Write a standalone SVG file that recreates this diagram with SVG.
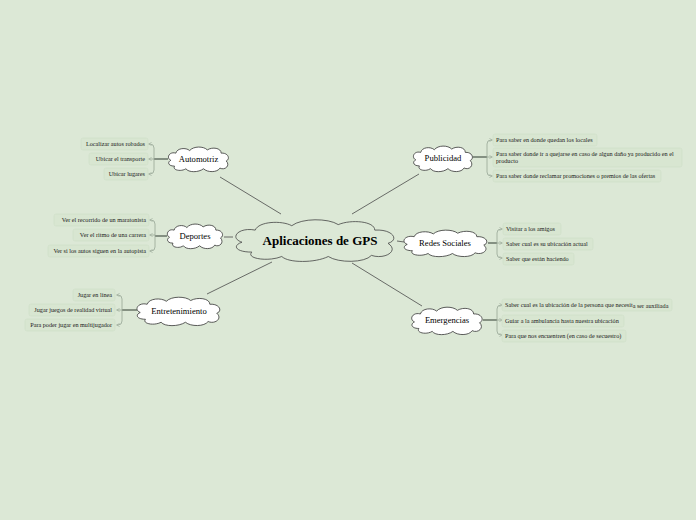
<svg xmlns="http://www.w3.org/2000/svg" xmlns:xlink="http://www.w3.org/1999/xlink" width="696" height="520" viewBox="0 0 696 520">
<style>
.bg{fill:#dce8d6}
.cloud{fill:#ffffff;stroke:#333;stroke-width:0.8}
.cloudc{fill:#dce8d6;stroke:#444;stroke-width:0.8}
.main{stroke:#4a4a4a;stroke-width:0.8;fill:none}
.stem{stroke:#6f7a6d;stroke-width:1.6;fill:none}
.br{stroke:#97a695;stroke-width:0.8;fill:none}
.leafbox{fill:#d8e6d1;stroke:#cfdec8;stroke-width:0.6}
.leaf{font-family:"Liberation Serif","DejaVu Serif",serif;font-size:6.2px;fill:#1a1a1a}
.sub{font-family:"Liberation Serif","DejaVu Serif",serif;font-size:8.6px;fill:#000;text-anchor:middle}
.ctr{font-family:"Liberation Serif","DejaVu Serif",serif;font-size:13px;font-weight:bold;fill:#000;text-anchor:middle}
.end{text-anchor:end}
</style>
<defs>
<path id="cl" vector-effect="non-scaling-stroke" d="M6,22 C-2,18 4,8 14,11 C16,3 30,2 36,7 C42,0 58,0 64,6 C72,1 86,3 86,11 C97,10 101,20 94,23 C101,30 92,38 84,34 C80,41 64,41 58,35 C50,41 34,41 30,35 C22,40 8,37 12,31 C2,31 0,25 6,22 Z"/>
<marker id="ah" viewBox="0 0 6 6" refX="5" refY="3" markerWidth="4" markerHeight="4" orient="auto"><path d="M0,0 L6,3 L0,6" fill="none" stroke="#97a695" stroke-width="1"/></marker>
</defs>
<rect class="bg" x="0" y="0" width="696" height="520"/>

<g id="connectors">
<line class="main" x1="220" y1="177" x2="281" y2="214"/>
<line class="main" x1="419" y1="174" x2="352" y2="214"/>
<line class="main" x1="207" y1="294" x2="272" y2="262"/>
<line class="main" x1="422" y1="306" x2="352" y2="263"/>
<line class="main" x1="224" y1="237" x2="233" y2="237"/>
<line class="main" x1="397" y1="241" x2="404" y2="242"/>
<line class="stem" x1="168" y1="159" x2="154" y2="159"/>
<path class="br" d="M154,148 Q154,144 150,144 L149,144" marker-end="url(#ah)"/>
<path class="br" d="M154,159 L149,159" marker-end="url(#ah)"/>
<path class="br" d="M154,148 L154,170 Q154,174 150,174 L149,174" marker-end="url(#ah)"/>
<line class="stem" x1="167" y1="236" x2="155" y2="236"/>
<path class="br" d="M155,224 Q155,220 151,220 L150,220" marker-end="url(#ah)"/>
<path class="br" d="M155,235 L150,235" marker-end="url(#ah)"/>
<path class="br" d="M155,224 L155,247 Q155,251 151,251 L150,251" marker-end="url(#ah)"/>
<line class="stem" x1="137" y1="310" x2="122" y2="310"/>
<path class="br" d="M122,299 Q122,295 118,295 L117,295" marker-end="url(#ah)"/>
<path class="br" d="M122,310 L117,310" marker-end="url(#ah)"/>
<path class="br" d="M122,299 L122,321 Q122,325 118,325 L117,325" marker-end="url(#ah)"/>
<line class="stem" x1="473" y1="157" x2="487" y2="157"/>
<path class="br" d="M487,144 Q487,140 491,140 L492,140" marker-end="url(#ah)"/>
<path class="br" d="M487,157 L492,157" marker-end="url(#ah)"/>
<path class="br" d="M487,144 L487,172 Q487,176 491,176 L492,176" marker-end="url(#ah)"/>
<line class="stem" x1="488" y1="243" x2="497" y2="243"/>
<path class="br" d="M497,233 Q497,229 501,229 L502,229" marker-end="url(#ah)"/>
<path class="br" d="M497,243 L502,243" marker-end="url(#ah)"/>
<path class="br" d="M497,233 L497,254 Q497,258 501,258 L502,258" marker-end="url(#ah)"/>
<line class="stem" x1="483" y1="320" x2="497" y2="320"/>
<path class="br" d="M497,309 Q497,305 501,305 L502,305" marker-end="url(#ah)"/>
<path class="br" d="M497,320 L502,320" marker-end="url(#ah)"/>
<path class="br" d="M497,309 L497,331 Q497,335 501,335 L502,335" marker-end="url(#ah)"/>
</g>

<g id="center">
<use xlink:href="#cl" class="cloudc" transform="translate(232,218) scale(1.66,1.1)"/>
<text class="ctr" x="320" y="245">Aplicaciones de GPS</text>
</g>

<g id="automotriz">
<use xlink:href="#cl" class="cloud" transform="translate(167,146) scale(0.63,0.65)"/>
<text class="sub" x="198.5" y="162">Automotriz</text>
</g>
<g id="deportes">
<use xlink:href="#cl" class="cloud" transform="translate(166,223) scale(0.58,0.65)"/>
<text class="sub" x="195" y="239">Deportes</text>
</g>
<g id="entretenimiento">
<use xlink:href="#cl" class="cloud" transform="translate(135,296) scale(0.87,0.75)"/>
<text class="sub" x="179" y="314">Entretenimiento</text>
</g>
<g id="publicidad">
<use xlink:href="#cl" class="cloud" transform="translate(412,145) scale(0.62,0.675)"/>
<text class="sub" x="443" y="161">Publicidad</text>
</g>
<g id="redes">
<use xlink:href="#cl" class="cloud" transform="translate(402,229) scale(0.87,0.7)"/>
<text class="sub" x="445" y="246">Redes Sociales</text>
</g>
<g id="emergencias">
<use xlink:href="#cl" class="cloud" transform="translate(410,306) scale(0.74,0.725)"/>
<text class="sub" x="447" y="323">Emergencias</text>
</g>

<g id="leaves-automotriz">
<rect class="leafbox" x="81" y="138" width="67" height="12" rx="2"/>
<text class="leaf end" x="145" y="146">Localizar autos robados</text>
<rect class="leafbox" x="89" y="153" width="59" height="12" rx="2"/>
<text class="leaf end" x="145" y="161">Ubicar el transporte</text>
<rect class="leafbox" x="104" y="168" width="44" height="12" rx="2"/>
<text class="leaf end" x="145" y="176">Ubicar lugares</text>
</g>
<g id="leaves-deportes">
<rect class="leafbox" x="54" y="214" width="95" height="12" rx="2"/>
<text class="leaf end" x="146" y="222">Ver el recorrido de un maratonista</text>
<rect class="leafbox" x="73" y="229" width="76" height="12" rx="2"/>
<text class="leaf end" x="146" y="237">Ver el ritmo de una carrera</text>
<rect class="leafbox" x="48" y="245" width="101" height="12" rx="2"/>
<text class="leaf end" x="146" y="253">Ver si los autos siguen en la autopista</text>
</g>
<g id="leaves-entretenimiento">
<rect class="leafbox" x="73" y="289" width="42" height="12" rx="2"/>
<text class="leaf end" x="112" y="297">Jugar en línea</text>
<rect class="leafbox" x="29" y="304" width="86" height="12" rx="2"/>
<text class="leaf end" x="112" y="312">Jugar juegos de realidad virtual</text>
<rect class="leafbox" x="25" y="319" width="90" height="12" rx="2"/>
<text class="leaf end" x="112" y="327">Para poder jugar en multijugador</text>
</g>
<g id="leaves-publicidad">
<rect class="leafbox" x="493" y="134" width="104" height="12" rx="2"/>
<text class="leaf" x="496" y="142">Para saber en donde quedan los locales</text>
<rect class="leafbox" x="493" y="148" width="189" height="19" rx="2"/>
<text class="leaf" x="496" y="156">Para saber donde ir a quejarse en caso de algun daño ya producido en el</text>
<text class="leaf" x="496" y="163">producto</text>
<rect class="leafbox" x="493" y="170" width="168" height="12" rx="2"/>
<text class="leaf" x="496" y="178">Para saber donde reclamar promociones o premios de las ofertas</text>
</g>
<g id="leaves-redes">
<rect class="leafbox" x="503" y="223" width="58" height="12" rx="2"/>
<text class="leaf" x="506" y="231">Visitar a los amigos</text>
<rect class="leafbox" x="503" y="238" width="90" height="12" rx="2"/>
<text class="leaf" x="506" y="246">Saber cual es su ubicación actual</text>
<rect class="leafbox" x="503" y="253" width="71" height="12" rx="2"/>
<text class="leaf" x="506" y="261">Saber que están haciendo</text>
</g>
<g id="leaves-emergencias">
<rect class="leafbox" x="502" y="299" width="170" height="12" rx="2"/>
<text class="leaf" x="505" y="307">Saber cual es la ubicación de la persona que necesit<tspan dy="1">a ser auxiliada</tspan></text>
<rect class="leafbox" x="502" y="315" width="122" height="12" rx="2"/>
<text class="leaf" x="505" y="323">Guiar a la ambulancia hasta nuestra ubicación</text>
<rect class="leafbox" x="502" y="330" width="124" height="12" rx="2"/>
<text class="leaf" x="505" y="338">Para que nos encuentren (en caso de secuestro)</text>
</g>
</svg>
